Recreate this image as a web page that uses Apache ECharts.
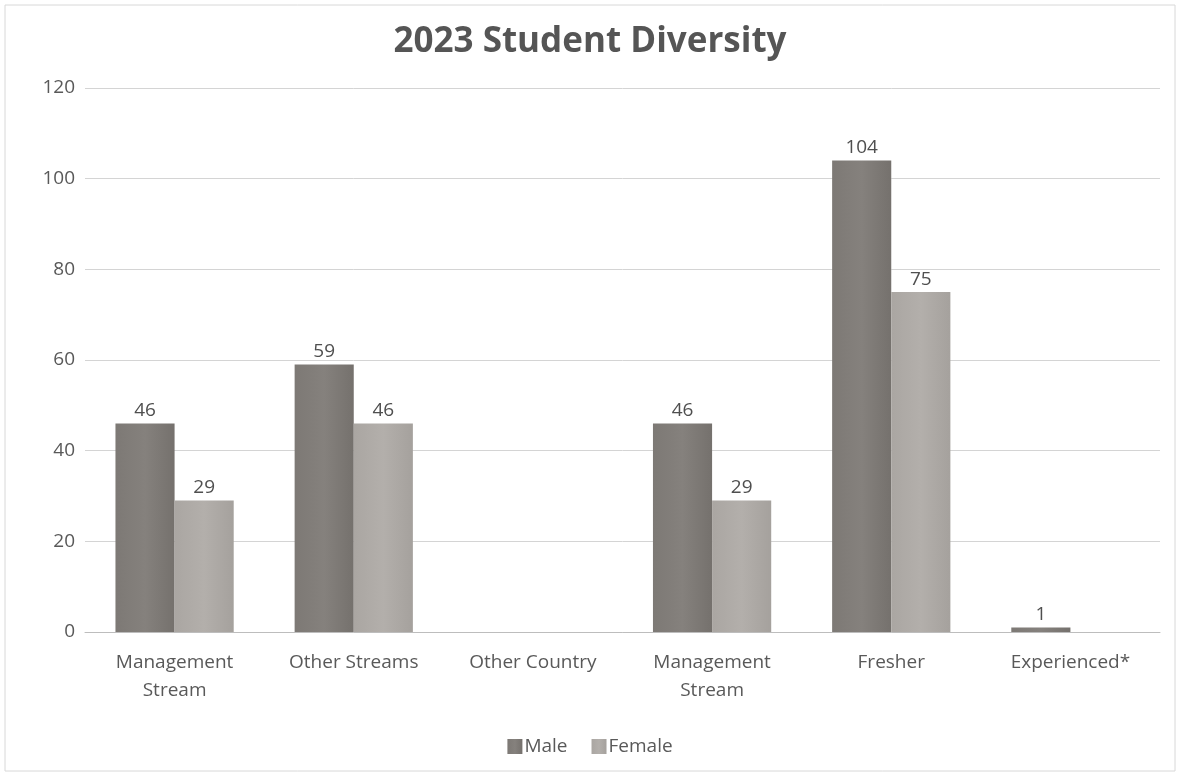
<!DOCTYPE html>
<html>
<head>
<meta charset="utf-8">
<script src="https://cdn.jsdelivr.net/npm/echarts@6/dist/echarts.min.js"></script>
<style>
  html, body { margin: 0; padding: 0; background: #ffffff; }
  #chart { width: 1180px; height: 779px; }
</style>
</head>
<body>
<div id="chart"></div>
<script>
// Student intake by stream and experience, split by gender
const categories = ['Management\nStream', 'Other Streams', 'Other Country', 'Management\nStream', 'Fresher', 'Experienced*'];
const maleValues = [46, 59, null, 46, 104, 1];
const femaleValues = [29, 46, null, 29, 75, null];
const yTicks = { min: 0, max: 120, interval: 20 };

const textColor = '#595959';
const font = '"Open Sans", "Noto Sans", sans-serif';

const chart = echarts.init(document.getElementById('chart'));

const barLabel = {
  show: true,
  position: 'top',
  distance: 3,
  color: '#4f4f4f',
  fontFamily: font,
  fontSize: 19
};

chart.setOption({
  backgroundColor: '#ffffff',
  animation: false,
  title: {
    text: '2023 Student Diversity',
    left: 'center',
    top: 20,
    textStyle: { fontFamily: font, fontSize: 35, fontWeight: 'bold', color: '#555555' }
  },
  legend: {
    bottom: 18,
    left: 'center',
    itemWidth: 15,
    itemHeight: 15,
    itemGap: 24,
    icon: 'rect',
    textStyle: { fontFamily: font, fontSize: 19, color: textColor, padding: [0, 0, 0, -3] }
  },
  grid: { left: 85, right: 20, top: 88, bottom: 147, containLabel: false },
  xAxis: {
    type: 'category',
    data: categories,
    axisLine: { lineStyle: { color: '#bdbdbd', width: 1 } },
    axisTick: { show: false },
    axisLabel: { fontFamily: font, fontSize: 19, color: textColor, margin: 17, lineHeight: 28, interval: 0 }
  },
  yAxis: {
    type: 'value',
    min: yTicks.min,
    max: yTicks.max,
    interval: yTicks.interval,
    axisLine: { show: false },
    axisTick: { show: false },
    axisLabel: { fontFamily: font, fontSize: 19, color: textColor, margin: 10, align: 'right' },
    splitLine: { lineStyle: { color: '#d4d4d4', width: 1 } }
  },
  series: [
    {
      name: 'Male',
      type: 'bar',
      data: maleValues,
      barGap: '0%',
      barCategoryGap: '34%',
      itemStyle: {
        color: new echarts.graphic.LinearGradient(0, 0, 1, 0, [
          { offset: 0, color: '#7d7975' },
          { offset: 0.5, color: '#85817d' },
          { offset: 1, color: '#75716d' }
        ])
      },
      label: barLabel
    },
    {
      name: 'Female',
      type: 'bar',
      data: femaleValues,
      itemStyle: {
        color: new echarts.graphic.LinearGradient(0, 0, 1, 0, [
          { offset: 0, color: '#aaa6a2' },
          { offset: 0.5, color: '#b3afab' },
          { offset: 1, color: '#a5a19d' }
        ])
      },
      label: barLabel
    }
  ],
  graphic: [
    {
      type: 'rect',
      shape: { x: 5, y: 5, width: 1170, height: 766 },
      style: { fill: 'none', stroke: '#d8d8d8', lineWidth: 1 },
      silent: true
    }
  ]
});
</script>
</body>
</html>
